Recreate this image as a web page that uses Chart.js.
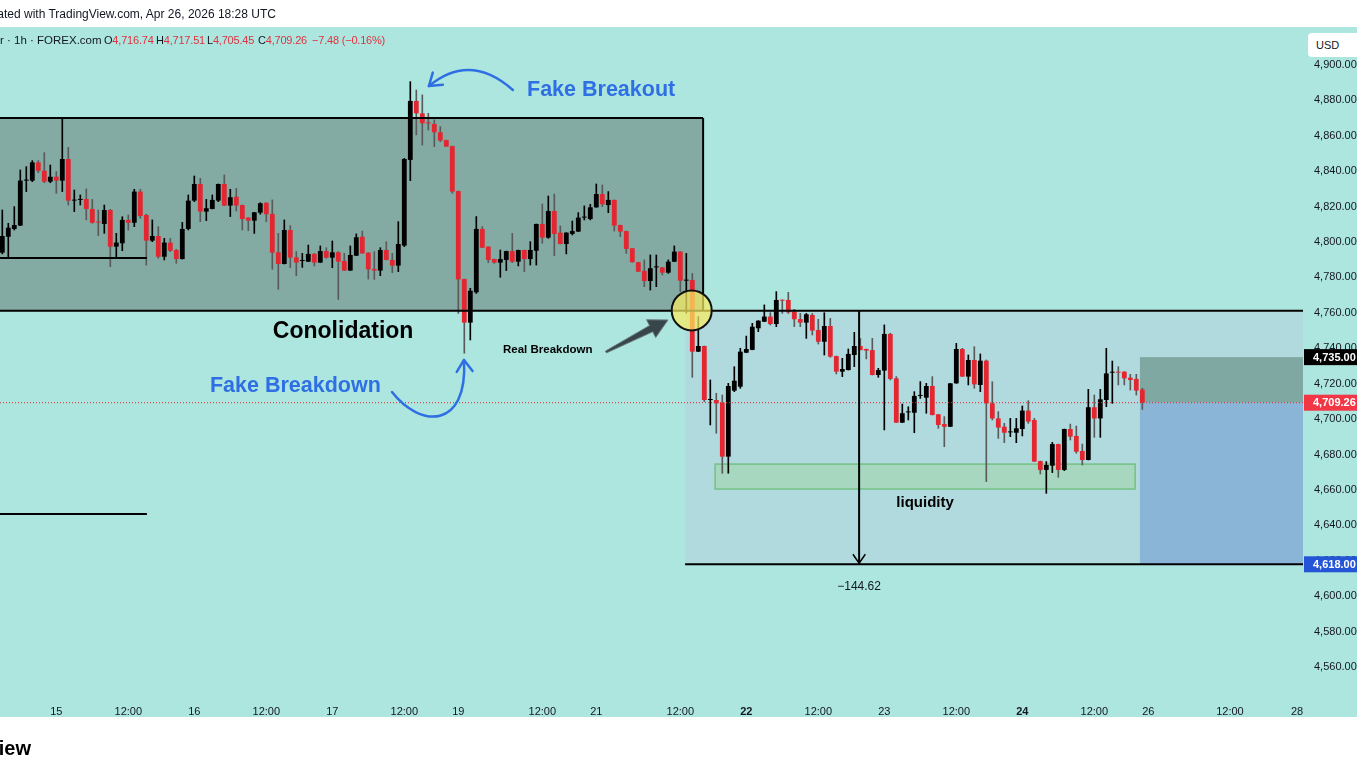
<!DOCTYPE html>
<html>
<head>
<meta charset="utf-8">
<title>XAUUSD 1h</title>
<script src="https://cdn.jsdelivr.net/npm/chart.js@4.4.1/dist/chart.umd.min.js"></script>
<style>
  html, body { margin: 0; padding: 0; background: #fff; overflow: hidden; }
  #wrap { position: relative; width: 1357px; height: 763px; font-family: "Liberation Sans", Arial, sans-serif; }
  #chart { position: absolute; left: 0; top: 0; }
  .t { position: absolute; white-space: nowrap; color: #131722; }
  .h { top: 34px; font-size: 11px; letter-spacing: -0.2px; }
  .r { color: #e0313f; }
</style>
</head>
<body>
<div id="wrap">
  <canvas id="chart" width="1357" height="763"></canvas>

  <!-- top strip and legend row -->
  <div class="t" style="left:-22px;top:7px;font-size:12px;">Created with TradingView.com, Apr 26, 2026 18:28 UTC</div>
  <div class="t h" style="left:0;font-size:11.5px;letter-spacing:0;">r · 1h · FOREX.com</div>
  <div class="t h" style="left:104px;">O<span class="r">4,716.74</span></div>
  <div class="t h" style="left:156px;">H<span class="r">4,717.51</span></div>
  <div class="t h" style="left:207px;">L<span class="r">4,705.45</span></div>
  <div class="t h" style="left:258px;">C<span class="r">4,709.26</span></div>
  <div class="t h r" style="left:312px;">−7.48 (−0.16%)</div>

  <div class="t" style="left:1308px;top:33px;width:60px;height:24px;background:#fff;border-radius:4px;font-size:11px;line-height:24px;padding-left:8px;box-sizing:border-box;">USD</div>

  <!-- bottom logo text, only its end is on screen -->
  <div class="t" style="left:-200px;width:231px;text-align:right;top:737px;font-size:20px;font-weight:bold;color:#000;">TradingView</div>
</div>

<script>
// ---- candle data (1h bars, oldest first) ----
const opens = [
  4794.0, 4803.0, 4807.4, 4809.3, 4834.7, 4834.7, 4845.0, 4840.3, 4834.1, 4836.9,
  4834.7, 4846.9, 4823.4, 4823.8, 4824.3, 4818.7, 4811.1, 4810.2, 4818.1, 4797.4,
  4799.3, 4812.5, 4810.9, 4828.5, 4815.3, 4800.8, 4803.4, 4791.7, 4799.7, 4795.5,
  4790.4, 4807.4, 4823.4, 4832.8, 4817.2, 4818.7, 4823.4, 4832.8, 4820.6, 4825.6,
  4820.9, 4813.8, 4812.1, 4816.6, 4822.2, 4815.9, 4794.2, 4787.6, 4806.8, 4791.4,
  4789.3, 4788.9, 4793.3, 4788.4, 4794.9, 4791.2, 4794.2, 4789.3, 4783.9, 4792.3,
  4803.0, 4794.0, 4784.8, 4783.9, 4795.5, 4789.9, 4786.7, 4798.0, 4846.4, 4879.7,
  4872.7, 4867.1, 4866.7, 4862.0, 4857.6, 4854.2, 4828.8, 4779.1, 4754.5, 4771.6,
  4807.4, 4797.4, 4790.4, 4788.4, 4789.9, 4794.9, 4788.9, 4795.5, 4790.4, 4795.1,
  4810.2, 4802.5, 4817.5, 4805.3, 4798.9, 4804.6, 4805.9, 4813.8, 4813.0, 4819.6,
  4827.1, 4820.9, 4823.8, 4809.6, 4806.2, 4796.5, 4788.6, 4783.7, 4778.0, 4785.7,
  4785.7, 4782.7, 4788.9, 4794.6, 4778.2, 4778.6, 4738.1, 4741.3, 4710.8, 4710.8,
  4709.3, 4678.8, 4716.1, 4718.3, 4737.5, 4739.1, 4751.3, 4755.0, 4757.9, 4753.7,
  4767.0, 4767.3, 4760.7, 4756.5, 4754.5, 4758.8, 4750.3, 4743.7, 4752.6, 4735.6,
  4726.8, 4727.7, 4736.2, 4741.3, 4739.6, 4739.0, 4724.9, 4727.4, 4748.1, 4723.0,
  4698.0, 4703.8, 4703.6, 4713.1, 4712.1, 4718.7, 4702.7, 4697.2, 4695.7, 4720.2,
  4739.6, 4724.0, 4733.4, 4719.3, 4733.0, 4708.9, 4700.4, 4695.7, 4692.5, 4692.3,
  4694.4, 4704.8, 4699.5, 4676.3, 4671.3, 4673.7, 4685.9, 4671.3, 4694.4, 4690.5,
  4682.0, 4676.9, 4706.7, 4700.4, 4710.8, 4726.2, 4726.4, 4726.8, 4723.4, 4722.7,
  4716.74
];
const highs = [
  4818.1, 4810.6, 4820.0, 4840.7, 4842.6, 4846.0, 4846.0, 4850.5, 4843.5, 4839.8,
  4869.9, 4853.5, 4829.4, 4826.6, 4830.0, 4824.1, 4818.1, 4820.9, 4818.5, 4804.9,
  4814.3, 4815.3, 4829.8, 4829.8, 4815.7, 4812.5, 4808.7, 4802.1, 4802.1, 4795.9,
  4811.1, 4826.6, 4837.3, 4836.0, 4824.1, 4826.6, 4832.8, 4837.9, 4829.8, 4830.3,
  4820.9, 4813.8, 4816.8, 4822.2, 4822.2, 4823.8, 4804.9, 4812.5, 4809.3, 4794.6,
  4793.6, 4798.3, 4793.6, 4797.8, 4796.8, 4800.6, 4794.6, 4793.6, 4797.8, 4804.6,
  4806.2, 4794.0, 4794.6, 4796.8, 4800.2, 4793.6, 4811.5, 4847.3, 4890.6, 4885.9,
  4883.1, 4872.7, 4869.0, 4865.2, 4857.6, 4854.2, 4828.8, 4779.1, 4773.9, 4814.4,
  4808.7, 4797.4, 4790.4, 4795.5, 4794.9, 4804.9, 4795.5, 4795.5, 4800.2, 4810.2,
  4821.5, 4826.0, 4827.1, 4809.1, 4805.3, 4811.9, 4816.6, 4820.4, 4821.3, 4832.8,
  4832.2, 4828.5, 4823.8, 4809.6, 4806.2, 4796.5, 4788.6, 4789.9, 4792.7, 4792.7,
  4785.7, 4789.9, 4797.8, 4794.6, 4793.6, 4782.3, 4757.9, 4741.3, 4722.1, 4714.6,
  4713.6, 4720.2, 4729.6, 4740.0, 4746.9, 4754.1, 4755.6, 4764.5, 4760.1, 4772.0,
  4767.3, 4771.6, 4762.0, 4759.7, 4759.7, 4759.7, 4756.4, 4760.1, 4756.9, 4735.6,
  4734.3, 4739.6, 4749.0, 4745.6, 4739.6, 4745.6, 4728.7, 4753.2, 4748.5, 4724.0,
  4708.5, 4707.0, 4715.5, 4721.2, 4720.2, 4724.0, 4702.7, 4701.4, 4720.2, 4742.8,
  4740.0, 4736.2, 4740.9, 4736.8, 4733.4, 4721.1, 4704.2, 4697.6, 4700.4, 4700.4,
  4707.4, 4710.4, 4700.4, 4676.3, 4676.0, 4686.9, 4685.9, 4694.4, 4697.2, 4696.1,
  4685.9, 4716.8, 4713.6, 4716.8, 4740.0, 4732.8, 4729.6, 4726.8, 4725.3, 4725.3,
  4717.51
];
const lows = [
  4793.3, 4790.8, 4806.8, 4809.3, 4828.5, 4834.1, 4839.2, 4833.5, 4833.5, 4827.5,
  4828.5, 4820.9, 4817.2, 4820.9, 4812.5, 4810.6, 4803.6, 4804.9, 4786.1, 4790.8,
  4795.1, 4806.8, 4808.7, 4813.4, 4787.0, 4800.2, 4790.8, 4789.9, 4794.6, 4788.0,
  4790.4, 4806.8, 4822.8, 4811.5, 4812.1, 4818.7, 4822.8, 4820.6, 4814.4, 4817.5,
  4806.8, 4806.4, 4804.9, 4815.7, 4811.5, 4784.6, 4773.3, 4787.6, 4785.5, 4781.0,
  4785.7, 4788.9, 4786.5, 4788.4, 4790.8, 4785.5, 4767.6, 4783.9, 4783.9, 4792.3,
  4793.6, 4779.1, 4778.9, 4781.0, 4789.9, 4782.7, 4783.3, 4797.4, 4834.7, 4860.5,
  4854.8, 4863.3, 4853.9, 4856.7, 4853.9, 4827.5, 4759.7, 4737.2, 4744.7, 4771.0,
  4796.8, 4788.4, 4788.0, 4780.1, 4783.9, 4788.4, 4786.5, 4783.3, 4787.0, 4787.0,
  4799.3, 4802.1, 4792.3, 4798.9, 4793.3, 4804.0, 4805.9, 4812.5, 4812.5, 4819.6,
  4820.0, 4816.6, 4806.2, 4803.0, 4793.6, 4788.6, 4783.3, 4774.8, 4772.9, 4774.8,
  4781.4, 4782.3, 4788.9, 4772.0, 4759.8, 4723.6, 4738.1, 4709.9, 4696.7, 4692.0,
  4669.4, 4669.4, 4715.5, 4717.4, 4737.5, 4739.1, 4749.4, 4755.0, 4753.2, 4752.2,
  4759.7, 4759.7, 4752.2, 4752.2, 4745.6, 4747.5, 4742.4, 4736.2, 4734.9, 4725.5,
  4724.0, 4727.7, 4729.6, 4739.0, 4734.0, 4724.9, 4723.6, 4693.9, 4722.1, 4698.0,
  4698.0, 4699.5, 4692.3, 4711.7, 4703.3, 4702.3, 4694.8, 4684.4, 4695.7, 4720.2,
  4724.0, 4719.3, 4717.4, 4715.5, 4664.7, 4699.5, 4689.1, 4686.7, 4690.1, 4686.7,
  4690.5, 4697.6, 4676.0, 4669.0, 4658.1, 4669.8, 4667.1, 4670.9, 4688.2, 4680.7,
  4674.1, 4676.9, 4689.7, 4689.7, 4707.0, 4708.9, 4719.3, 4719.3, 4716.4, 4713.6,
  4705.45
];
const closes = [
  4803.4, 4808.1, 4809.6, 4834.7, 4834.9, 4845.0, 4840.3, 4834.1, 4836.9, 4834.7,
  4846.9, 4823.4, 4823.6, 4824.1, 4818.7, 4810.9, 4811.0, 4818.1, 4797.4, 4799.7,
  4812.5, 4810.9, 4828.5, 4814.7, 4800.8, 4803.4, 4791.7, 4799.7, 4795.1, 4790.4,
  4807.4, 4823.4, 4832.8, 4817.2, 4819.1, 4823.8, 4832.8, 4820.6, 4825.3, 4820.6,
  4813.0, 4812.1, 4816.8, 4821.9, 4815.7, 4794.0, 4787.6, 4806.8, 4791.2, 4788.4,
  4789.4, 4793.3, 4788.4, 4794.9, 4791.2, 4794.2, 4788.9, 4783.9, 4792.7, 4802.7,
  4793.6, 4784.6, 4783.9, 4795.5, 4789.9, 4786.7, 4798.9, 4846.9, 4879.7, 4872.7,
  4867.1, 4867.0, 4862.0, 4857.3, 4853.9, 4828.5, 4778.9, 4754.5, 4772.5, 4807.4,
  4796.8, 4789.9, 4788.4, 4790.4, 4794.9, 4788.9, 4795.5, 4790.4, 4795.5, 4810.2,
  4802.5, 4817.5, 4804.6, 4798.9, 4805.3, 4806.2, 4813.8, 4814.0, 4819.6, 4827.1,
  4821.3, 4823.8, 4809.3, 4805.9, 4796.1, 4788.6, 4783.3, 4778.0, 4785.2, 4785.8,
  4782.7, 4788.9, 4794.6, 4778.2, 4778.6, 4738.1, 4741.3, 4710.8, 4711.0, 4708.9,
  4678.8, 4718.7, 4721.7, 4738.1, 4739.6, 4752.2, 4755.6, 4757.9, 4753.7, 4767.3,
  4766.9, 4760.3, 4756.4, 4754.5, 4759.2, 4750.0, 4743.7, 4752.6, 4735.3, 4726.8,
  4728.3, 4736.8, 4741.3, 4739.0, 4738.7, 4724.9, 4727.7, 4748.1, 4722.7, 4698.0,
  4703.3, 4703.9, 4713.1, 4713.2, 4718.7, 4702.3, 4696.7, 4695.7, 4720.2, 4739.6,
  4724.0, 4733.4, 4719.6, 4733.0, 4708.9, 4700.4, 4695.2, 4692.3, 4692.6, 4694.8,
  4704.8, 4698.6, 4676.0, 4671.3, 4674.1, 4685.9, 4671.3, 4694.4, 4690.1, 4681.6,
  4676.9, 4706.7, 4700.4, 4711.2, 4725.8, 4726.4, 4726.2, 4723.0, 4722.1, 4716.1,
  4709.26
];

// ---- axis ticks ----
const tickPos  = [9, 21, 32, 44, 55, 67, 76, 90, 99, 113, 124, 136, 147, 159, 170, 182, 191, 204.6, 215.8];
const tickText = ['15', '12:00', '16', '12:00', '17', '12:00', '19', '12:00', '21', '12:00', '22', '12:00', '23', '12:00', '24', '12:00', '26', '12:00', '28'];
const boldTicks = ['22', '24'];
const priceTicks = [4560, 4580, 4600, 4620, 4640, 4660, 4680, 4700, 4720, 4740, 4760, 4780, 4800, 4820, 4840, 4860, 4880, 4900];

// marked price levels
const lastPrice = 4709.26;
const stopLevel = 4735.00;
const targetLevel = 4618.00;
const rangeMove = '−144.62';

// view window
const X_MIN = -0.383, X_MAX = 216.78;
const Y_MIN = 4547.0, Y_MAX = 4921.46;

const TEAL = '#ade6df';
const RED = '#e3262f';
const BLUE = '#2f6fe4';
const FONT = '"Liberation Sans", Arial, sans-serif';

const up = (i) => closes[i] >= opens[i];
const bodyColors = opens.map((o, i) => up(i) ? '#000000' : RED);
const wickColors = opens.map((o, i) => up(i) ? '#000000' : '#5a5a5a');

function fmt(v) {
  return v.toLocaleString('en-US', { minimumFractionDigits: 2, maximumFractionDigits: 2 });
}

// ---- drawings on the chart ----
const bgPlugin = {
  id: 'bg',
  beforeDraw(chart) {
    const c = chart.ctx;
    c.save();
    c.fillStyle = '#ffffff';
    c.fillRect(0, 0, chart.width, chart.height);
    c.fillStyle = TEAL;
    c.fillRect(0, 27, chart.width, 690);
    c.restore();
  }
};

function rect(c, x0, y0, x1, y1) {
  c.fillRect(Math.min(x0, x1), Math.min(y0, y1), Math.abs(x1 - x0), Math.abs(y1 - y0));
}

function line(c, x0, y0, x1, y1) {
  c.beginPath(); c.moveTo(x0, y0); c.lineTo(x1, y1); c.stroke();
}

function chevron(c, tipX, tipY, fromX, fromY, len) {
  const a = Math.atan2(tipY - fromY, tipX - fromX);
  c.beginPath();
  c.moveTo(tipX - len * Math.cos(a - 0.6), tipY - len * Math.sin(a - 0.6));
  c.lineTo(tipX, tipY);
  c.lineTo(tipX - len * Math.cos(a + 0.6), tipY - len * Math.sin(a + 0.6));
  c.stroke();
}

const underlay = {
  id: 'underlay',
  beforeDatasetsDraw(chart) {
    const c = chart.ctx, x = chart.scales.x, y = chart.scales.y;
    const X = v => x.getPixelForValue(v), Y = v => y.getPixelForValue(v);
    c.save();
    // consolidation range
    c.fillStyle = '#83aaa3';
    rect(c, X(X_MIN), Y(4870.0), X(116.8), Y(4761.2));
    // measured drop area
    c.fillStyle = 'rgba(185, 200, 222, 0.38)';
    rect(c, X(113.8), Y(4761.2), X(X_MAX), Y(targetLevel));
    // liquidity zone
    c.fillStyle = 'rgba(160, 215, 170, 0.6)';
    rect(c, X(118.8), Y(4674.6), X(188.8), Y(4660.5));
    c.strokeStyle = 'rgba(110, 190, 125, 0.9)';
    c.lineWidth = 1.5;
    c.strokeRect(X(118.8), Y(4674.6), X(188.8) - X(118.8), Y(4660.5) - Y(4674.6));
    // short position: stop and target zones
    c.fillStyle = '#80a8a2';
    rect(c, X(189.6), Y(stopLevel), X(X_MAX), Y(lastPrice));
    c.fillStyle = '#8bb5d6';
    rect(c, X(189.6), Y(lastPrice), X(X_MAX), Y(targetLevel));
    c.restore();
  },
  afterDatasetsDraw(chart) {
    const c = chart.ctx, x = chart.scales.x, y = chart.scales.y;
    const X = v => x.getPixelForValue(v), Y = v => y.getPixelForValue(v);
    c.save();
    // last price dotted line
    c.strokeStyle = RED; c.lineWidth = 1; c.setLineDash([1, 2]);
    line(c, 0, Y(lastPrice), X(X_MAX), Y(lastPrice));
    c.setLineDash([]);

    // black structure lines
    c.strokeStyle = '#000'; c.lineWidth = 2;
    line(c, X(X_MIN), Y(4870.0), X(116.8), Y(4870.0));
    line(c, X(116.8), Y(4870.0), X(116.8), Y(4761.2));
    line(c, X(X_MIN), Y(4761.2), X(X_MAX), Y(4761.2));
    line(c, X(X_MIN), Y(4791.0), X(24.1), Y(4791.0));
    line(c, X(X_MIN), Y(4646.4), X(24.1), Y(4646.4));
    line(c, X(113.8), Y(targetLevel), X(X_MAX), Y(targetLevel));
    // measuring arrow
    line(c, X(142.8), Y(4761.2), X(142.8), Y(targetLevel));
    c.lineWidth = 1.5;
    chevron(c, X(142.8), Y(targetLevel) - 1, X(142.8), Y(4700), 11);

    // breakdown circle
    c.beginPath();
    c.arc(X(114.9), Y(4761.4), 20, 0, Math.PI * 2);
    c.fillStyle = 'rgba(250, 235, 95, 0.72)';
    c.fill();
    c.lineWidth = 2; c.strokeStyle = '#111';
    c.stroke();

    // "Real Breakdown" pointer arrow
    const tx = X(100.6), ty = Y(4737.9), hx = X(110.95), hy = Y(4756.0);
    const d = Math.hypot(hx - tx, hy - ty), ux = (hx - tx) / d, uy = (hy - ty) / d;
    const nx = -uy, ny = ux, hl = 19, hw = 10;
    const bx = hx - ux * hl, by = hy - uy * hl;
    c.beginPath();
    c.moveTo(tx + nx * 1, ty + ny * 1);
    c.lineTo(bx + nx * 3.5, by + ny * 3.5);
    c.lineTo(bx + nx * hw, by + ny * hw);
    c.lineTo(hx, hy);
    c.lineTo(bx - nx * hw, by - ny * hw);
    c.lineTo(bx - nx * 3.5, by - ny * 3.5);
    c.lineTo(tx - nx * 1, ty - ny * 1);
    c.closePath();
    c.fillStyle = '#36464a'; c.fill();
    c.lineWidth = 1; c.strokeStyle = '#6d7d7d'; c.stroke();

    // blue curved arrows
    c.strokeStyle = BLUE; c.lineWidth = 2.5; c.lineCap = 'round'; c.lineJoin = 'round';
    let sx = X(85.1), sy = Y(4885.9), cx = X(77.95), cy = Y(4907.3), ex = X(71.1), ey = Y(4888.1);
    c.beginPath(); c.moveTo(sx, sy); c.quadraticCurveTo(cx, cy, ex, ey); c.stroke();
    chevron(c, ex, ey, cx, cy, 14);
    sx = X(64.95); sy = Y(4715.3);
    const c1x = X(69.6), c1y = Y(4695.0), c2x = X(77.6), c2y = Y(4693.9);
    ex = X(76.95); ey = Y(4733.4);
    c.beginPath(); c.moveTo(sx, sy); c.bezierCurveTo(c1x, c1y, c2x, c2y, ex, ey); c.stroke();
    chevron(c, ex, ey, c2x, c2y, 14);

    // labels
    c.textBaseline = 'middle';
    c.fillStyle = BLUE;
    c.font = 'bold 21.5px ' + FONT;
    c.textAlign = 'left';
    c.fillText('Fake Breakout', X(87.45), Y(4885.9));
    c.fillText('Fake Breakdown', X(34.6), Y(4718.7));
    c.fillStyle = '#000';
    c.font = 'bold 23px ' + FONT;
    c.textAlign = 'center';
    c.fillText('Conolidation', X(56.8), Y(4749.3));
    c.font = 'bold 11.5px ' + FONT;
    c.textAlign = 'left';
    c.fillText('Real Breakdown', X(83.45), Y(4739.0));
    c.font = 'bold 15px ' + FONT;
    c.textAlign = 'center';
    c.fillText('liquidity', X(153.8), Y(4652.6));
    c.font = '12px ' + FONT;
    c.fillStyle = '#131722';
    c.fillText(rangeMove, X(142.8), Y(4605.2));
    c.restore();
  },
  afterDraw(chart) {
    // price badges on the axis
    const c = chart.ctx, y = chart.scales.y;
    const left = chart.chartArea.right;
    c.save();
    c.font = 'bold 11px ' + FONT;
    c.textBaseline = 'middle';
    c.textAlign = 'left';
    [[stopLevel, '#000000'], [lastPrice, '#f23645'], [targetLevel, '#2455d6']].forEach(([v, col]) => {
      const py = y.getPixelForValue(v);
      c.fillStyle = col;
      c.fillRect(left + 1, py - 8, 60, 16);
      c.fillStyle = '#fff';
      c.fillText(fmt(v), left + 10, py + 0.5);
    });
    c.restore();
  }
};

const ctx = document.getElementById('chart').getContext('2d');
Chart.defaults.font.family = FONT;

new Chart(ctx, {
  type: 'bar',
  data: {
    datasets: [
      {
        label: 'body',
        data: opens.map((o, i) => ({ x: i, y: [o, closes[i]] })),
        backgroundColor: bodyColors,
        borderWidth: 0,
        barPercentage: 0.8,
        categoryPercentage: 1,
        minBarLength: 1,
        grouped: false
      },
      {
        label: 'wick',
        data: lows.map((l, i) => ({ x: i, y: [l, highs[i]] })),
        backgroundColor: wickColors,
        borderWidth: 0,
        barThickness: 1,
        grouped: false
      }
    ]
  },
  options: {
    responsive: false,
    animation: false,
    layout: { padding: { top: 27, bottom: 46, left: 0, right: 0 } },
    plugins: { legend: { display: false }, tooltip: { enabled: false } },
    scales: {
      x: {
        type: 'linear',
        min: X_MIN,
        max: X_MAX,
        offset: false,
        grid: { display: false },
        border: { display: false },
        ticks: {
          autoSkip: false,
          maxRotation: 0,
          padding: 7,
          color: '#131722',
          font: (c) => ({ size: 11, weight: boldTicks.includes(tickText[c.index]) ? 'bold' : 'normal' }),
          callback: (v, i) => tickText[i]
        },
        afterBuildTicks: (s) => { s.ticks = tickPos.map(v => ({ value: v })); },
        afterFit: (s) => { s.height = 27; s.paddingLeft = 0; s.paddingRight = 0; }
      },
      y: {
        type: 'linear',
        position: 'right',
        min: Y_MIN,
        max: Y_MAX,
        grid: { display: false },
        border: { display: false },
        ticks: {
          padding: 3,
          color: '#131722',
          font: { size: 11 },
          callback: (v) => fmt(v)
        },
        afterBuildTicks: (s) => { s.ticks = priceTicks.map(v => ({ value: v })); },
        afterFit: (s) => { s.width = 54; s.paddingTop = 0; s.paddingBottom = 0; }
      }
    }
  },
  plugins: [bgPlugin, underlay]
});
</script>
</body>
</html>
